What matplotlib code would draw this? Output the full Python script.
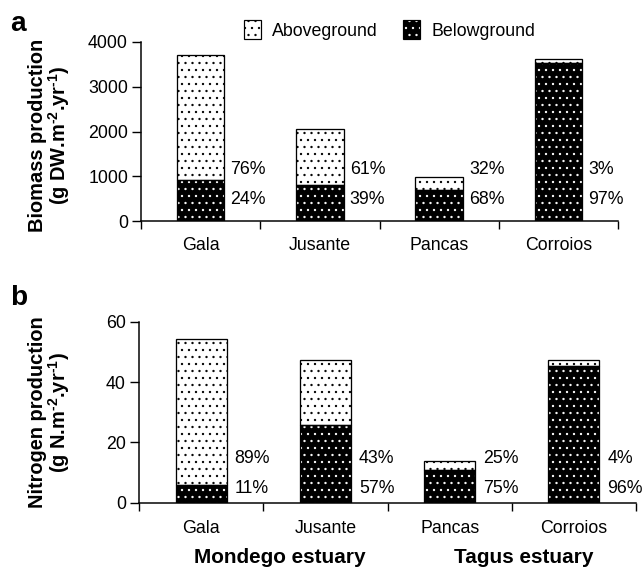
import matplotlib
matplotlib.use("Agg")
import matplotlib.pyplot as plt
from matplotlib.patches import Patch
from matplotlib.legend_handler import HandlerTuple

DPI = 84
W, H = 644, 568


def pt(px):
    return px * 72.0 / DPI


plt.rcParams['font.family'] = ['Liberation Sans', 'DejaVu Sans']
plt.rcParams['mathtext.fontset'] = 'custom'
plt.rcParams['mathtext.rm'] = 'Liberation Sans'
plt.rcParams['mathtext.bf'] = 'Liberation Sans:bold'
plt.rcParams['mathtext.default'] = 'bf'
plt.rcParams['hatch.linewidth'] = pt(0.9)

sites = ['Gala', 'Jusante', 'Pancas', 'Corroios']
biomass_below = [910, 800, 690, 3520]
biomass_above = [2810, 1260, 290, 100]
biomass_pct_above = ['76%', '61%', '32%', '3%']
biomass_pct_below = ['24%', '39%', '68%', '97%']

nitrogen_below = [6.0, 25.9, 10.8, 45.3]
nitrogen_above = [48.2, 21.3, 3.1, 2.0]
nitrogen_pct_above = ['89%', '43%', '25%', '4%']
nitrogen_pct_below = ['11%', '57%', '75%', '96%']

estuaries = ['Mondego estuary', 'Tagus estuary']

fig = plt.figure(figsize=(W / DPI, H / DPI), dpi=DPI)

ax_a = fig.add_axes([141 / W, 1 - 221 / H, 477 / W, 179 / H])
ax_b = fig.add_axes([139 / W, 1 - 502.7 / H, 497 / W, 181 / H])

FS = pt(17.8)


def draw_panel(ax, below, above, width, ymax, yticks, pct_above, pct_below, y_up, y_lo, dx, cpad):
    xs = [i + 0.5 for i in range(len(sites))]
    # belowground: black with white dots
    ax.bar(xs, below, width=width, color='black', edgecolor='white', hatch='..', linewidth=0, zorder=2)
    ax.bar(xs, below, width=width, fill=False, edgecolor='black', linewidth=pt(1.3), zorder=3)
    # aboveground: white with black dots
    ax.bar(xs, above, bottom=below, width=width, color='white', edgecolor='black', hatch='..',
           linewidth=pt(1.3), zorder=2)
    for i, x in enumerate(xs):
        ax.annotate(pct_above[i], xy=(x + width / 2, y_up), xytext=(pt(dx), 0), textcoords='offset points',
                    ha='left', va='center', fontsize=FS)
        ax.annotate(pct_below[i], xy=(x + width / 2, y_lo), xytext=(pt(dx), 0), textcoords='offset points',
                    ha='left', va='center', fontsize=FS)
    ax.set_xlim(0, len(sites))
    ax.set_ylim(0, ymax)
    ax.set_yticks(yticks)
    ax.set_xticks(range(len(sites) + 1))
    ax.set_xticklabels([])
    ax.set_xticks(xs, minor=True)
    ax.set_xticklabels(sites, minor=True, fontsize=FS)
    ax.tick_params(axis='x', which='minor', length=0, pad=pt(cpad))
    ax.tick_params(axis='x', which='major', length=pt(8), width=pt(1.4), direction='out')
    ax.tick_params(axis='y', length=pt(9), width=pt(1.4), pad=pt(4), labelsize=FS)
    for s in ['top', 'right']:
        ax.spines[s].set_visible(False)
    for s in ['left', 'bottom']:
        ax.spines[s].set_linewidth(pt(1.5))


draw_panel(ax_a, biomass_below, biomass_above, 0.4, 4000, [0, 1000, 2000, 3000, 4000],
           biomass_pct_above, biomass_pct_below, 1160, 490, 6, 16)
draw_panel(ax_b, nitrogen_below, nitrogen_above, 0.41, 60, [0, 20, 40, 60],
           nitrogen_pct_above, nitrogen_pct_below, 14.65, 4.8, 8, 17)

YL = pt(20)
ax_a.set_ylabel('Biomass production\n(g DW.m$^{\u2010 2}$.yr$^{\u2010 1}$)', fontsize=YL,
                fontweight='bold', linespacing=0.95)
ax_a.yaxis.set_label_coords((72 - 141) / 477, 0.48)
ax_b.set_ylabel('Nitrogen production\n(g N.m$^{\u2010 2}$.yr$^{\u2010 1}$)', fontsize=YL,
                fontweight='bold', linespacing=0.95)
ax_b.yaxis.set_label_coords((72 - 139) / 497, 0.5)

fig.text(10 / W, 1 - 24 / H, 'a', fontsize=pt(28), fontweight='bold', va='center')
fig.text(10 / W, 1 - 298 / H, 'b', fontsize=pt(28), fontweight='bold', va='center')

ax_b.text(1.13, -0.333, estuaries[0], transform=ax_b.get_xaxis_transform(), ha='center', va='baseline',
          fontsize=pt(20.8), fontweight='bold')
ax_b.text(3.10, -0.333, estuaries[1], transform=ax_b.get_xaxis_transform(), ha='center', va='baseline',
          fontsize=pt(20.8), fontweight='bold')

h_above = Patch(facecolor='white', edgecolor='black', hatch='..', linewidth=pt(1.2))
h_below = (Patch(facecolor='black', edgecolor='white', hatch='..', linewidth=0),
           Patch(fill=False, edgecolor='black', linewidth=pt(1.2)))
fig.legend([h_above, h_below], ['Aboveground', 'Belowground'], loc='center',
           bbox_to_anchor=(389.5 / W, 1 - 30 / H), ncol=2, frameon=False, fontsize=FS,
           handlelength=0.98, handleheight=1.2, handletextpad=0.63, columnspacing=1.38,
           borderpad=0.2, handler_map={tuple: HandlerTuple(ndivide=1)})

fig.savefig('out.png', dpi=DPI)
